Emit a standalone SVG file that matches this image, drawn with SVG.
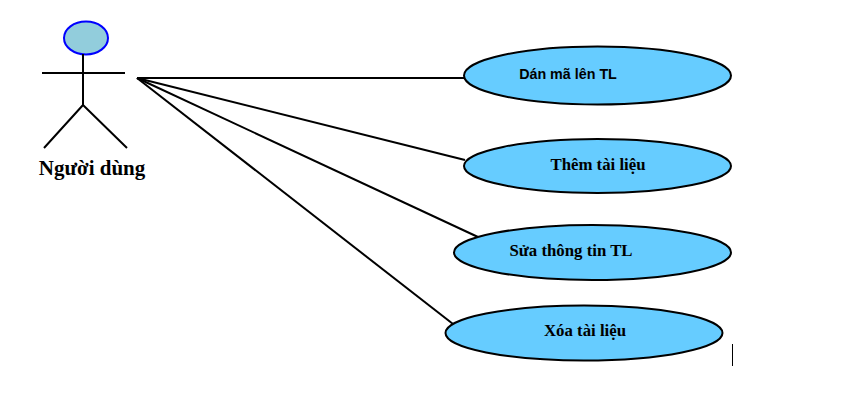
<svg xmlns="http://www.w3.org/2000/svg" width="858" height="405" viewBox="0 0 858 405">
<style>
.l{stroke:#000;stroke-width:2;fill:none}
.uc{fill:#66ccff;stroke:#000;stroke-width:2}
.t{font-family:"Liberation Serif",serif;font-weight:bold;font-size:16.800px;fill:#000;text-anchor:middle}
</style>
<rect width="858" height="405" fill="#fff"/>
<g id="connectors">
<path class="l" d="M137 78H465"/>
<path class="l" d="M137 78L465 160"/>
<path class="l" d="M137 78L478 237"/>
<path class="l" d="M137 78L453 324"/>
</g>
<g id="actor">
<ellipse cx="86" cy="38" rx="22" ry="16.500" fill="#92cddc" stroke="#0000ff" stroke-width="2"/>
<path class="l" d="M83 54V105M42 73H125M83 105L44 148M83 105L127 148"/>
<text x="92" y="175" style="font-family:'Liberation Serif',serif;font-weight:bold;font-size:21px;text-anchor:middle">Người dùng</text>
</g>
<g id="uc1">
<ellipse class="uc" cx="597.500" cy="75.500" rx="133.500" ry="29"/>
<text class="t" x="568" y="79" style="font-family:'Liberation Sans',sans-serif;font-size:14.300px">Dán mã lên TL</text>
</g>
<g id="uc2">
<ellipse class="uc" cx="597.500" cy="166" rx="133.500" ry="27"/>
<text class="t" x="598" y="170">Thêm tài liệu</text>
</g>
<g id="uc3">
<ellipse class="uc" cx="592.500" cy="252.500" rx="138.500" ry="27.500"/>
<text class="t" x="571" y="256">Sửa thông tin TL</text>
</g>
<g id="uc4">
<ellipse class="uc" cx="584" cy="333" rx="138.500" ry="27.500"/>
<text class="t" x="585" y="336">Xóa tài liệu</text>
</g>
<path d="M732.500 344V366" stroke="#000" stroke-width="1"/>
</svg>
